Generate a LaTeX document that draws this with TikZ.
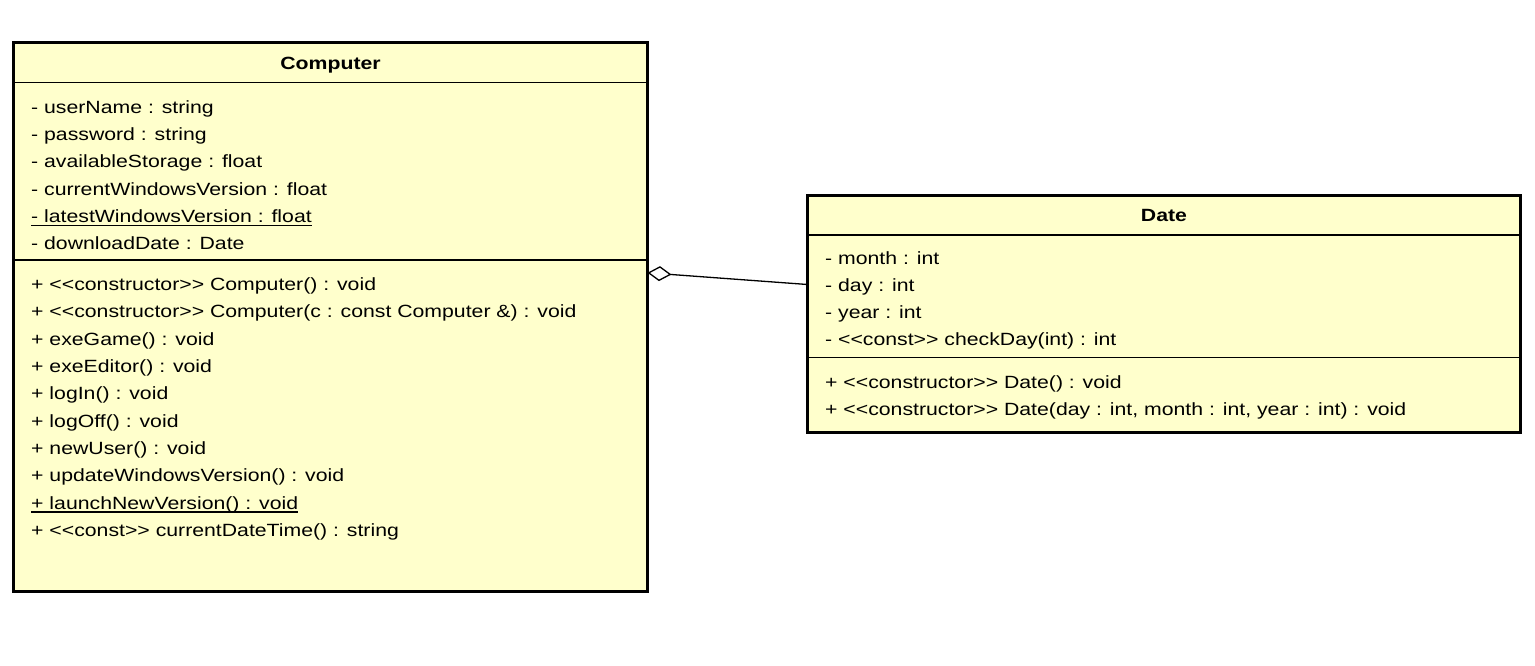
\documentclass[tikz,border=0pt]{standalone}
\usepackage{fontspec}
\setmainfont{Liberation Sans}[FakeStretch=1.2, Ligatures=TeXOff]
\usetikzlibrary{arrows.meta}
\definecolor{umlfill}{RGB}{255,255,204}
\begin{document}
\begin{tikzpicture}[x=1pt,y=-1pt,
  classbox/.style={draw, line width=3pt, fill=umlfill, inner sep=0pt, outer sep=0pt},
  member/.style={anchor=base west, inner sep=0pt, font=\fontsize{17.7}{20}\selectfont},
  ctitle/.style={anchor=base, inner sep=0pt, font=\fontsize{17.7}{20}\selectfont\bfseries},
  sepline/.style={line width=1.3pt},
  uline/.style={line width=1.3pt},
  assoc/.style={line width=1.3pt}]
\useasboundingbox (0,0) rectangle (1535,665);
% boxes
\node[classbox, minimum width=634pt, minimum height=548.5pt] (computer) at (330.5,316.75) {};
\node[classbox, minimum width=713pt, minimum height=237pt] (date) at (1164,313.5) {};
% separators
\draw[sepline] (computer.west |- 0,82.7) -- (computer.east |- 0,82.7);
\draw[sepline] (computer.west |- 0,260) -- (computer.east |- 0,260);
\draw[sepline] (date.west |- 0,235) -- (date.east |- 0,235);
\draw[sepline] (date.west |- 0,357.7) -- (date.east |- 0,357.7);
% Computer
\node[ctitle] (ct) at (330.5,69.3) {Computer};
\node[member] (a1) at (31,113.3) {- userName : string};
\node[member] (a2) at (31,140.6) {- password : string};
\node[member] (a3) at (31,167.9) {- availableStorage : float};
\node[member] (a4) at (31,195.2) {- currentWindowsVersion : float};
\node[member] (a5) at (31,222.5) {- latestWindowsVersion : float};
\node[member] (a6) at (31,249.8) {- downloadDate : Date};
\node[member] (m1) at (31,290.6) {+ <<constructor>> Computer() : void};
\node[member] (m2) at (31,317.9) {+ <<constructor>> Computer(c : const Computer \&) : void};
\node[member] (m3) at (31,345.2) {+ exeGame() : void};
\node[member] (m4) at (31,372.5) {+ exeEditor() : void};
\node[member] (m5) at (31,399.8) {+ logIn() : void};
\node[member] (m6) at (31,427.1) {+ logOff() : void};
\node[member] (m7) at (31,454.4) {+ newUser() : void};
\node[member] (m8) at (31,481.7) {+ updateWindowsVersion() : void};
\node[member] (m9) at (31,509.0) {+ launchNewVersion() : void};
\node[member] (m10) at (31,536.3) {+ <<const>> currentDateTime() : string};
\draw[uline] ([yshift=-3pt]a5.base west) -- ([yshift=-3pt]a5.base east);
\draw[uline] ([yshift=-3pt]m9.base west) -- ([yshift=-3pt]m9.base east);
% Date
\node[ctitle] (dt) at (1164,221.7) {Date};
\node[member] (d1) at (825,264.3) {- month : int};
\node[member] (d2) at (825,291.4) {- day : int};
\node[member] (d3) at (825,318.5) {- year : int};
\node[member] (d4) at (825,345.6) {- <<const>> checkDay(int) : int};
\node[member] (dm1) at (825,388.3) {+ <<constructor>> Date() : void};
\node[member] (dm2) at (825,415.6) {+ <<constructor>> Date(day : int, month : int, year : int) : void};
% aggregation
\draw[assoc, -{Diamond[open, length=24pt, width=15pt, line width=1.3pt]}]
  ([yshift=29pt]date.west) -- ([yshift=44pt]computer.east);
\end{tikzpicture}
\end{document}
